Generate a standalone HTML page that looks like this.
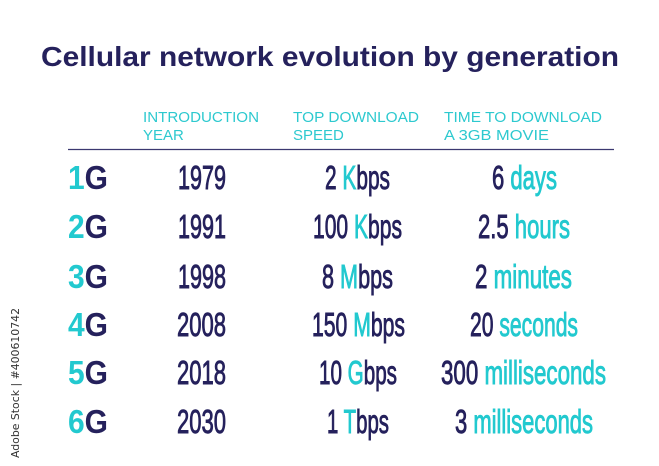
<!DOCTYPE html>
<html><head><style>
html,body{margin:0;padding:0;background:#fff;}
svg{display:block}
.d{fill:#25215c;stroke:#25215c;stroke-width:0.9}
.c{fill:#22c9cf;stroke:#22c9cf;stroke-width:0.9}
</style></head><body>
<svg width="659" height="466" xmlns="http://www.w3.org/2000/svg">
<rect width="659" height="466" fill="#fff"/>
<text x="330" y="66" text-anchor="middle" font-family="Liberation Sans, sans-serif" font-weight="bold" font-size="28" fill="#25215c" textLength="578" lengthAdjust="spacingAndGlyphs">Cellular network evolution by generation</text>
<g font-family="Liberation Sans, sans-serif" font-size="15" fill="#2dc9cf">
<text x="143" y="122" textLength="116" lengthAdjust="spacingAndGlyphs">INTRODUCTION</text><text x="143" y="140">YEAR</text>
<text x="293" y="122" textLength="126" lengthAdjust="spacingAndGlyphs">TOP DOWNLOAD</text><text x="293" y="140">SPEED</text>
<text x="444" y="122" textLength="158" lengthAdjust="spacingAndGlyphs">TIME TO DOWNLOAD</text><text x="444" y="140" textLength="105" lengthAdjust="spacingAndGlyphs">A 3GB MOVIE</text>
</g>
<line x1="68" y1="149.5" x2="614" y2="149.5" stroke="#3b3870" stroke-width="1.3"/>
<g font-family="Liberation Sans, sans-serif" font-size="33" fill="#25215c" font-weight="bold">
<text x="68" y="189" textLength="40" lengthAdjust="spacingAndGlyphs"><tspan fill="#22c9cf">1</tspan>G</text>
<text x="68" y="238" textLength="40" lengthAdjust="spacingAndGlyphs"><tspan fill="#22c9cf">2</tspan>G</text>
<text x="68" y="288" textLength="40" lengthAdjust="spacingAndGlyphs"><tspan fill="#22c9cf">3</tspan>G</text>
<text x="68" y="336" textLength="40" lengthAdjust="spacingAndGlyphs"><tspan fill="#22c9cf">4</tspan>G</text>
<text x="68" y="384" textLength="40" lengthAdjust="spacingAndGlyphs"><tspan fill="#22c9cf">5</tspan>G</text>
<text x="68" y="433" textLength="40" lengthAdjust="spacingAndGlyphs"><tspan fill="#22c9cf">6</tspan>G</text>
</g>
<g font-family="Liberation Sans, sans-serif" font-size="33">
<text class="d" x="178" y="189" textLength="48" lengthAdjust="spacingAndGlyphs">1979</text>
<text class="d" x="178" y="238" textLength="48" lengthAdjust="spacingAndGlyphs">1991</text>
<text class="d" x="178" y="288" textLength="48" lengthAdjust="spacingAndGlyphs">1998</text>
<text class="d" x="177" y="336" textLength="49" lengthAdjust="spacingAndGlyphs">2008</text>
<text class="d" x="177" y="384" textLength="49" lengthAdjust="spacingAndGlyphs">2018</text>
<text class="d" x="177" y="433" textLength="49" lengthAdjust="spacingAndGlyphs">2030</text>

<text class="d" x="325" y="189" textLength="65" lengthAdjust="spacingAndGlyphs">2 <tspan class="c">K</tspan>bps</text>
<text class="d" x="313" y="238" textLength="89" lengthAdjust="spacingAndGlyphs">100 <tspan class="c">K</tspan>bps</text>
<text class="d" x="322" y="288" textLength="71" lengthAdjust="spacingAndGlyphs">8 <tspan class="c">M</tspan>bps</text>
<text class="d" x="312" y="336" textLength="93" lengthAdjust="spacingAndGlyphs">150 <tspan class="c">M</tspan>bps</text>
<text class="d" x="319" y="384" textLength="78" lengthAdjust="spacingAndGlyphs">10 <tspan class="c">G</tspan>bps</text>
<text class="d" x="327" y="433" textLength="62" lengthAdjust="spacingAndGlyphs">1 <tspan class="c">T</tspan>bps</text>

<text class="d" x="492" y="189" textLength="65" lengthAdjust="spacingAndGlyphs">6 <tspan class="c">days</tspan></text>
<text class="d" x="478" y="238" textLength="92" lengthAdjust="spacingAndGlyphs">2.5 <tspan class="c">hours</tspan></text>
<text class="d" x="475" y="288" textLength="97" lengthAdjust="spacingAndGlyphs">2 <tspan class="c">minutes</tspan></text>
<text class="d" x="470" y="336" textLength="108" lengthAdjust="spacingAndGlyphs">20 <tspan class="c">seconds</tspan></text>
<text class="d" x="441" y="384" textLength="165" lengthAdjust="spacingAndGlyphs">300 <tspan class="c">milliseconds</tspan></text>
<text class="d" x="455" y="433" textLength="138" lengthAdjust="spacingAndGlyphs">3 <tspan class="c">milliseconds</tspan></text>
</g>
<text transform="translate(19,458) rotate(-90)" font-family="DejaVu Sans, sans-serif" font-size="11" fill="#333" textLength="150" lengthAdjust="spacingAndGlyphs">Adobe Stock | #400610742</text>
</svg>
</body></html>
